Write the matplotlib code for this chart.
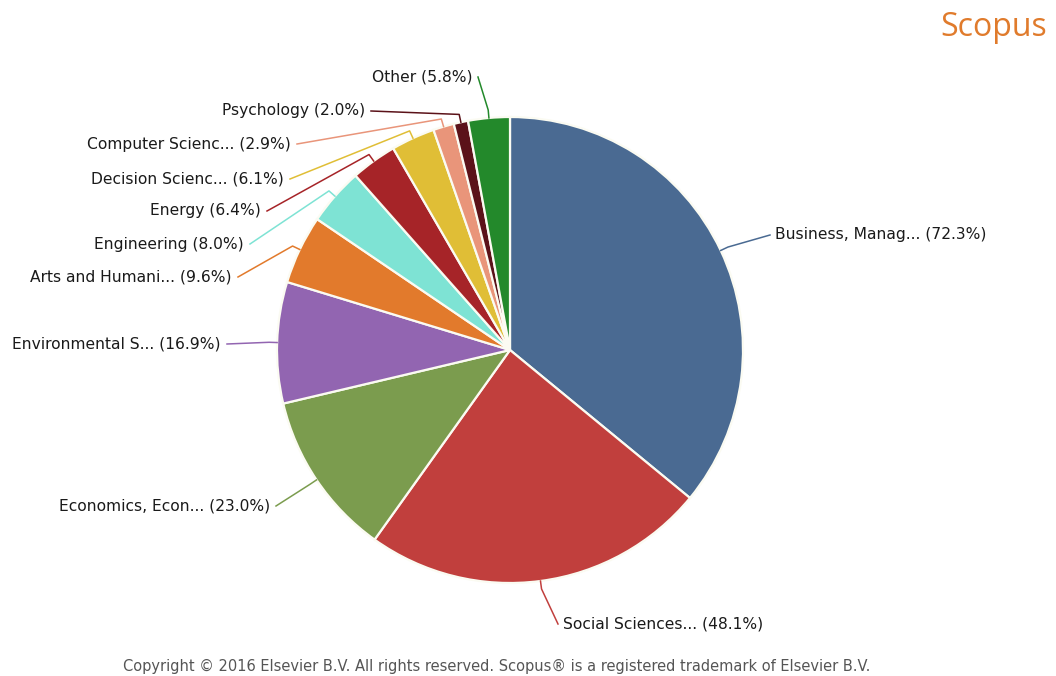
import numpy as np
import matplotlib
matplotlib.use("Agg")
import matplotlib.pyplot as plt

# Documents by subject area (share of documents, %)
subjects = [
    "Business, Manag...", "Social Sciences...", "Economics, Econ...",
    "Environmental S...", "Arts and Humani...", "Engineering", "Energy",
    "Decision Scienc...", "Computer Scienc...", "Psychology", "Other",
]
shares = [72.3, 48.1, 23.0, 16.9, 9.6, 8.0, 6.4, 6.1, 2.9, 2.0, 5.8]
colors = [
    "#4a6a92", "#c13f3d", "#7b9c4e", "#9265b1", "#e27a2c", "#7ee3d4",
    "#a62428", "#e0be36", "#e9957a", "#5b1219", "#23892b",
]

# Where each label's text sits (anchor x, y in pixels from top-left) and alignment
label_pos = [
    (775, 235, "left"), (563, 624, "left"), (270, 506, "right"),
    (221, 344, "right"), (232, 277, "right"), (244, 244, "right"),
    (261, 211, "right"), (284, 179, "right"), (291, 144, "right"),
    (365, 111, "right"), (472, 77, "right"),
]

W, H = 1056, 676
fig = plt.figure(figsize=(W / 100, H / 100), dpi=100)
ax = fig.add_axes([0, 0, 1, 1])

cx, cy, R = 510, H - 350, 233
wedges, _ = ax.pie(
    shares, colors=colors, startangle=90, counterclock=False,
    center=(cx, cy), radius=R, frame=True,
    wedgeprops=dict(edgecolor="#fbfbf2", linewidth=1.6),
)
ax.set_xlim(0, W)
ax.set_ylim(0, H)
ax.set_aspect("equal")
ax.axis("off")

for w, name, val, (tx, ty, ha), col in zip(wedges, subjects, shares, label_pos, colors):
    mid = np.deg2rad((w.theta1 + w.theta2) / 2)
    ex, ey = cx + R * np.cos(mid), cy + R * np.sin(mid)
    bx, by = cx + (R + 8) * np.cos(mid), cy + (R + 8) * np.sin(mid)
    ty_d = H - ty
    end_x = tx - 5 if ha == "left" else tx + 6
    ax.plot([end_x, bx, ex], [ty_d, by, ey], color=col, linewidth=1.1,
            solid_joinstyle="round")
    ax.text(tx, ty_d, f"{name} ({val:.1f}%)", ha=ha, va="center",
            fontsize=11.2, color="#1a1a1a", family="DejaVu Sans")

fig.text(1047 / W, 1 - 27 / H, "Scopus", ha="right", va="center",
         fontsize=23, color="#e07b2c", family="Open Sans")
fig.text(497 / W, 1 - 666 / H,
         "Copyright \u00a9 2016 Elsevier B.V. All rights reserved. Scopus\u00ae is a registered trademark of Elsevier B.V.",
         ha="center", va="center", fontsize=10.5, color="#555555", family="DejaVu Sans")

fig.savefig("out.png", dpi=100, facecolor="white")
